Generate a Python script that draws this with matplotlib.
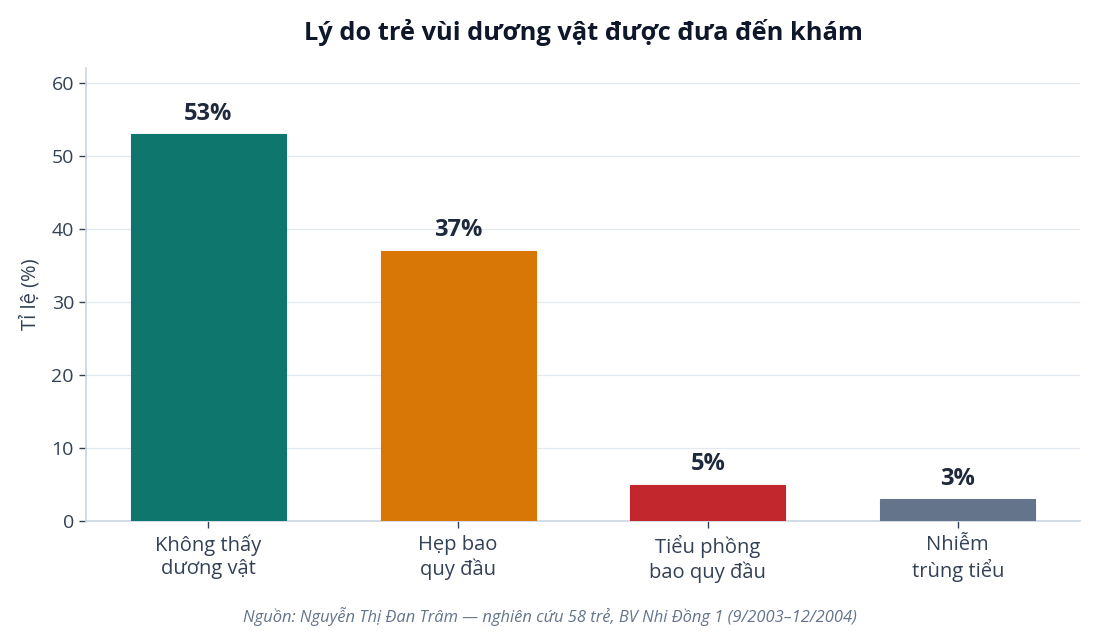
import matplotlib
matplotlib.use("Agg")
import matplotlib.pyplot as plt

plt.rcParams['font.family'] = ['Open Sans', 'DejaVu Sans']

# data
categories = ["Không thấy\ndương vật", "Hẹp bao\nquy đầu", "Tiểu phồng\nbao quy đầu", "Nhiễm\ntrùng tiểu"]
percent = [53, 37, 5, 3]
bar_colors = ["#0f766e", "#d97706", "#c1272d", "#64748b"]
yticks = [0, 10, 20, 30, 40, 50, 60]

title = "Lý do trẻ vùi dương vật được đưa đến khám"
ylabel = "Tỉ lệ (%)"
source = "Nguồn: Nguyễn Thị Đan Trâm — nghiên cứu 58 trẻ, BV Nhi Đồng 1 (9/2003–12/2004)"

fig = plt.figure(figsize=(11, 6.32), dpi=100)
ax = fig.add_axes([0.078, 0.1756, 0.904, 0.7164])

x = list(range(len(categories)))
bars = ax.bar(x, percent, width=0.62, color=bar_colors, edgecolor=bar_colors, linewidth=0.8, zorder=3)

for b, v in zip(bars, percent):
    ax.annotate(f"{v}%", (b.get_x() + b.get_width() / 2, v), xytext=(0, 6),
                textcoords="offset points", ha="center", va="bottom",
                fontsize=17, fontweight="bold", color="#1e293b")

ax.set_xlim(-0.49, 3.49)
ax.set_ylim(0, 62)
ax.set_yticks(yticks)
ax.set_xticks(x)
ax.set_xticklabels(categories, fontsize=14.5, color="#334155", linespacing=1.2)
ax.tick_params(axis="y", labelsize=14, labelcolor="#334155", color="#334155", length=5, width=1)
ax.tick_params(axis="x", color="#334155", length=5, width=1, pad=5)

ax.grid(axis="y", color="#e2e8f0", linewidth=0.9, zorder=0)
ax.set_axisbelow(True)
for s in ["top", "right"]:
    ax.spines[s].set_visible(False)
for s in ["left", "bottom"]:
    ax.spines[s].set_color("#cbd5e1")
    ax.spines[s].set_linewidth(1.2)

ax.set_ylabel(ylabel, fontsize=14.5, color="#334155", labelpad=8)

fig.text(0.53, 0.948, title, ha="center", va="center", fontsize=18.3, fontweight="bold", color="#0f172a")
fig.text(0.5, 0.025, source, ha="center", va="center", fontsize=11.9, style="italic", color="#64748b")

fig.savefig("out.png", dpi=100)
